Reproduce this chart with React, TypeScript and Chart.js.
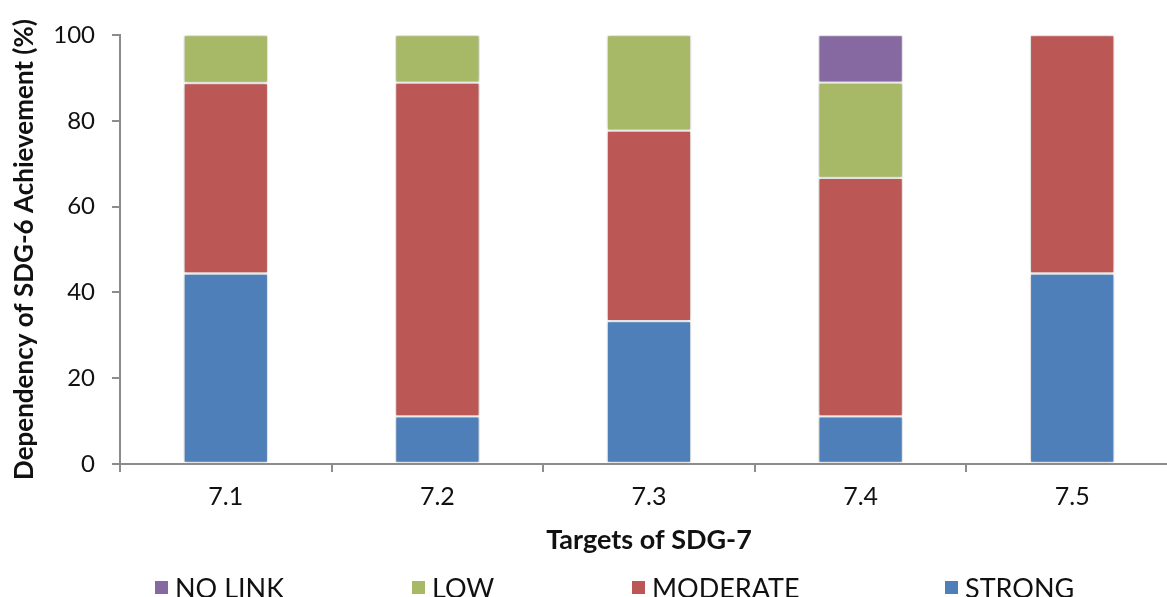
import React, { useEffect, useRef } from "react";
import { Chart, registerables } from "chart.js";

Chart.register(...registerables);

const categories = ["7.1", "7.2", "7.3", "7.4", "7.5"];
const strong = [44.4, 11.1, 33.3, 11.1, 44.4];
const moderate = [44.4, 77.8, 44.4, 55.6, 55.6];
const low = [11.2, 11.1, 22.3, 22.2, 0];
const noLink = [0, 0, 0, 11.1, 0];
const yTicks = [0, 20, 40, 60, 80, 100];

const FONT = "Lato, 'Noto Sans', sans-serif";

// Soft shadow behind the bar segments
const shadowPlugin = {
  id: "barShadow",
  beforeDatasetsDraw(chart: any) {
    const ctx = chart.ctx;
    ctx.save();
    ctx.shadowColor = "rgba(0,0,0,0.28)";
    ctx.shadowBlur = 4;
    ctx.shadowOffsetX = 0;
    ctx.shadowOffsetY = 0;
  },
  afterDatasetsDraw(chart: any) {
    chart.ctx.restore();
  },
};

// Legend row laid out along the bottom of the canvas
const legendPlugin = {
  id: "bottomLegend",
  afterDraw(chart: any, _args: any, opts: any) {
    const ctx = chart.ctx;
    const items = [...chart.data.datasets].reverse();
    const starts: number[] = opts.starts;
    ctx.save();
    ctx.font = `27px ${FONT}`;
    ctx.textBaseline = "middle";
    ctx.textAlign = "left";
    items.forEach((ds: any, i: number) => {
      const x = starts[i];
      const y = opts.y;
      ctx.fillStyle = ds.backgroundColor;
      ctx.fillRect(x, y - 6, 13, 13);
      ctx.fillStyle = "#111";
      ctx.fillText(ds.label, x + 20, y + 2);
    });
    ctx.restore();
  },
};

export default function App() {
  const ref = useRef<HTMLCanvasElement>(null);

  useEffect(() => {
    if (!ref.current) return;
    const chart = new Chart(ref.current, {
      type: "bar",
      data: {
        labels: categories,
        datasets: [
          { label: "STRONG", data: strong, backgroundColor: "#4F7FB8" },
          { label: "MODERATE", data: moderate, backgroundColor: "#BB5755" },
          { label: "LOW", data: low, backgroundColor: "#A7B866" },
          { label: "NO LINK", data: noLink, backgroundColor: "#8669A0" },
        ].map((d) => ({
          ...d,
          borderColor: "#FFFFFF",
          borderWidth: 1.2,
          borderSkipped: false,
          barPercentage: 0.4,
          categoryPercentage: 1,
        })),
      },
      options: {
        responsive: false,
        animation: false,
        devicePixelRatio: 1,
        layout: { padding: { top: 35, left: 0, right: 0, bottom: 0 } },
        plugins: {
          legend: { display: false },
          tooltip: { enabled: false },
          bottomLegend: { starts: [155, 412, 632, 945], y: 587 },
        } as any,
        scales: {
          x: {
            stacked: true,
            grid: {
              drawOnChartArea: false,
              tickLength: 8,
              color: "#8C8C8C",
              lineWidth: 2,
            },
            border: { color: "#8C8C8C", width: 2 },
            ticks: {
              color: "#111",
              font: { family: FONT, size: 25 },
              padding: 10,
            },
            title: {
              display: true,
              text: "Targets of SDG-7",
              color: "#111",
              font: { family: FONT, size: 27, weight: "bold" },
              padding: { top: 0, bottom: 41 },
            },
            afterFit: (scale: any) => {
              scale.height = 133;
            },
          },
          y: {
            stacked: true,
            min: 0,
            max: 100,
            afterBuildTicks: (scale: any) => {
              scale.ticks = yTicks.map((v) => ({ value: v }));
            },
            grid: {
              drawOnChartArea: false,
              tickLength: 8,
              color: "#8C8C8C",
              lineWidth: 2,
            },
            border: { color: "#8C8C8C", width: 2 },
            ticks: {
              color: "#111",
              font: { family: FONT, size: 24 },
              padding: 17,
            },
            title: {
              display: true,
              text: "Dependency of SDG-6 Achievement (%)",
              color: "#111",
              font: { family: FONT, size: 26, weight: "bold" },
              padding: { top: 9, bottom: 0 },
            },
            afterFit: (scale: any) => {
              scale.width = 120;
            },
          },
        },
      },
      plugins: [shadowPlugin, legendPlugin],
    });
    return () => chart.destroy();
  }, []);

  return (
    <div
      style={{
        position: "fixed",
        left: 0,
        top: 0,
        width: 1167,
        height: 597,
        overflow: "hidden",
        background: "#fff",
      }}
    >
      <canvas ref={ref} width={1178} height={597} style={{ display: "block" }} />
    </div>
  );
}
